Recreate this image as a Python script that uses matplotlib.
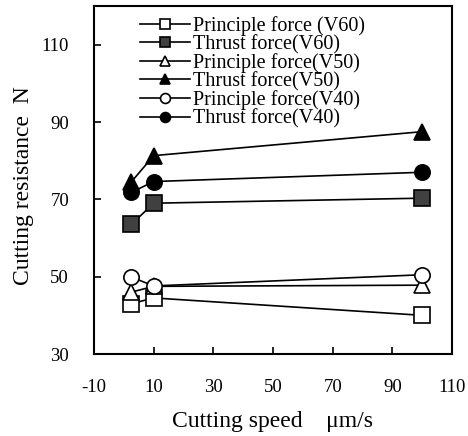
import numpy as np
import matplotlib.pyplot as plt

plt.rcParams['font.family'] = 'Liberation Serif'
plt.rcParams['axes.unicode_minus'] = False

speed = [2.5, 10, 100]

principle_v60 = [43.0, 44.5, 40.0]
thrust_v60 = [63.5, 69.0, 70.3]
principle_v50 = [46.0, 47.5, 47.8]
thrust_v50 = [74.5, 81.3, 87.5]
principle_v40 = [49.9, 47.6, 50.5]
thrust_v40 = [71.8, 74.6, 77.0]

labels = ['Principle force (V60)', 'Thrust force(V60)', 'Principle force(V50)',
          'Thrust force(V50)', 'Principle force(V40)', 'Thrust force(V40)']

fig = plt.figure(figsize=(4.68, 4.36), dpi=100)
ax = fig.add_axes([94 / 468, 1 - 354 / 436, 358 / 468, 348 / 436])

series = [
    (principle_v60, 's', 'white'),
    (thrust_v60, 's', '#404040'),
    (principle_v50, '^', 'white'),
    (thrust_v50, '^', 'black'),
    (principle_v40, 'o', 'white'),
    (thrust_v40, 'o', 'black'),
]
for (vals, mk, fc), lab in zip(series, labels):
    ax.plot(speed, vals, color='black', linewidth=1.2, marker=mk, markersize=11,
            markerfacecolor=fc, markeredgecolor='black', markeredgewidth=1.2, label=lab)

ax.set_xlim(-10, 110)
ax.set_ylim(30, 120)
ax.set_xticks(np.arange(-10, 111, 20))
ax.set_yticks(np.arange(30, 111, 20))
ax.tick_params(direction='in', length=5, width=1.2, labelsize=13.5)
ax.tick_params(axis='y', pad=18)
ax.tick_params(axis='x', pad=18)
for s in ax.spines.values():
    s.set_linewidth(1.5)

ax.set_xlabel('Cutting speed    μm/s', fontsize=17, va='center')
ax.set_ylabel('Cutting resistance  N', fontsize=17, va='center')
ax.xaxis.set_label_coords(0.5, -0.195)
ax.yaxis.set_label_coords(-0.196, 0.483)

ax.legend(loc='upper left', bbox_to_anchor=(0.128, 0.972), frameon=False, fontsize=14.5,
          handlelength=2.5, markerscale=0.65, labelspacing=-0.05, handletextpad=0.15,
          borderpad=0, borderaxespad=0)

fig.savefig('out.png', dpi=100)
